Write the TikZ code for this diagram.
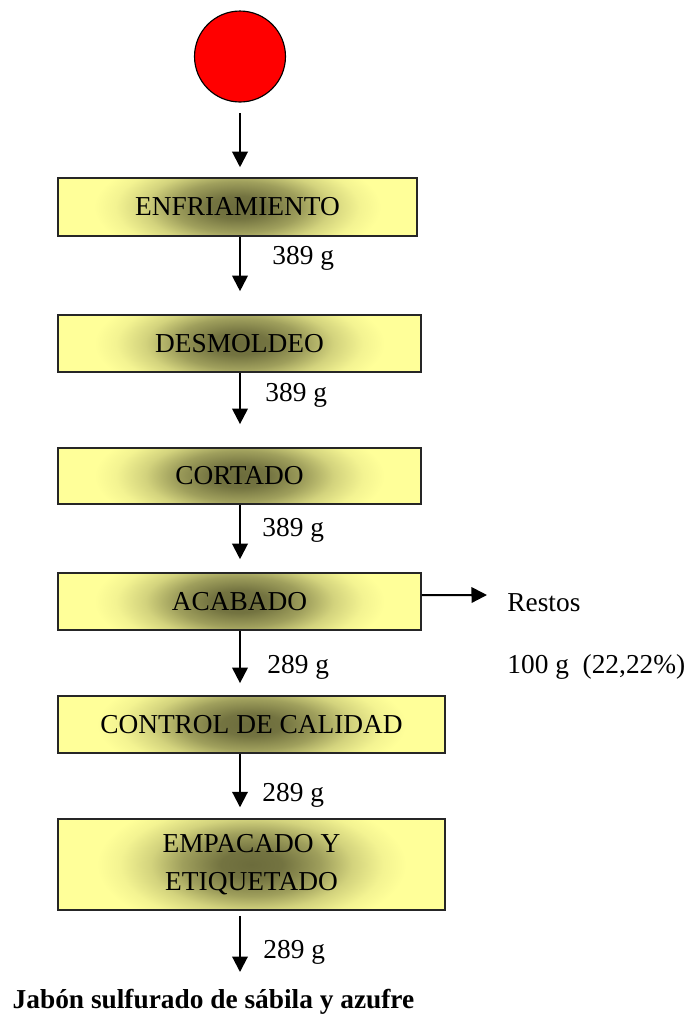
\documentclass[tikz,border=0pt]{standalone}
\usepackage{fontspec}
\setmainfont{Liberation Serif}
\usetikzlibrary{arrows.meta}
\definecolor{paleyel}{RGB}{255,255,153}
\definecolor{olivedk}{RGB}{108,108,60}
\pgfdeclareradialshading{boxglow}{\pgfpoint{0bp}{0bp}}{color(0bp)=(olivedk); color(4bp)=(olivedk!95!paleyel); color(9bp)=(olivedk!65!paleyel); color(13bp)=(olivedk!30!paleyel); color(17bp)=(olivedk!8!paleyel); color(20bp)=(paleyel); color(50bp)=(paleyel)}
\begin{document}
\begin{tikzpicture}[x=0.4386pt,y=-0.4386pt,
  etapa/.style={draw=black!85,line width=0.7pt,fill=paleyel,minimum width=159.2pt,minimum height=25pt,inner sep=0pt,align=center,font=\fontsize{12pt}{16.7pt}\selectfont,
    path picture={\shade[shading=boxglow] ([yshift=-18.5pt]path picture bounding box.south west) rectangle ([yshift=18.5pt]path picture bounding box.north east);}},
  ancha/.style={etapa,minimum width=169.7pt},
  flujo/.style={line width=0.9pt,-{Triangle[length=6.8pt,width=6.8pt]}},
  peso/.style={anchor=west,inner sep=0pt,font=\fontsize{12pt}{14pt}\selectfont}]
\useasboundingbox (0,0) rectangle (692,1018);
\node[circle,draw=black,line width=0.5pt,fill=red,minimum size=39.9pt,inner sep=0pt] (inicio) at (240,56.5) {};
\node[etapa,minimum width=157.5pt,minimum height=25.4pt] (enf) at (237.5,207) {ENFRIAMIENTO};
\node[etapa] (des) at (239.5,343.5) {DESMOLDEO};
\node[etapa,minimum height=24.6pt] (cor) at (239.5,476) {CORTADO};
\node[etapa] (aca) at (239.5,601.5) {ACABADO};
\node[ancha] (con) at (251.5,724.5) {CONTROL DE CALIDAD};
\node[ancha,minimum height=39.9pt] (emp) at (251.5,864.5) {EMPACADO Y\\ETIQUETADO};
\node[peso] (p1) at (272,258) {389 g};
\node[peso] (p2) at (265,395) {389 g};
\node[peso] (p3) at (262,530) {389 g};
\node[peso] (p4) at (267,667) {289 g};
\node[peso] (p5) at (262,795) {289 g};
\node[peso] (p6) at (263,952) {289 g};
\node[peso] (restos) at (507,603) {Restos};
\node[peso] (merma) at (507,667) {100 g~~(22,22\%)};
\node[inner sep=0pt,font=\bfseries\fontsize{12pt}{14pt}\selectfont] (jabon) at (213.5,1002) {Jabón sulfurado de sábila y azufre};
\coordinate (fin) at (240,972);
\coordinate (rs) at (487,595);
\draw[flujo] ([yshift=-4.6pt]inicio.south) -- ([yshift=4.4pt]enf.north -| inicio);
\draw[flujo] (enf.south -| inicio) -- ([yshift=10.1pt]des.north -| inicio);
\draw[flujo] (des.south -| inicio) -- ([yshift=10.1pt]cor.north -| inicio);
\draw[flujo] (cor.south -| inicio) -- ([yshift=5.7pt]aca.north -| inicio);
\draw[flujo] (aca.south -| inicio) -- ([yshift=5.3pt]con.north -| inicio);
\draw[flujo] (con.south -| inicio) -- ([yshift=4.8pt]emp.north -| inicio);
\draw[flujo] ([yshift=-2.2pt]emp.south -| inicio) -- (fin);
\draw[flujo] ([yshift=2.8pt]aca.east) -- (rs);
\end{tikzpicture}
\end{document}
